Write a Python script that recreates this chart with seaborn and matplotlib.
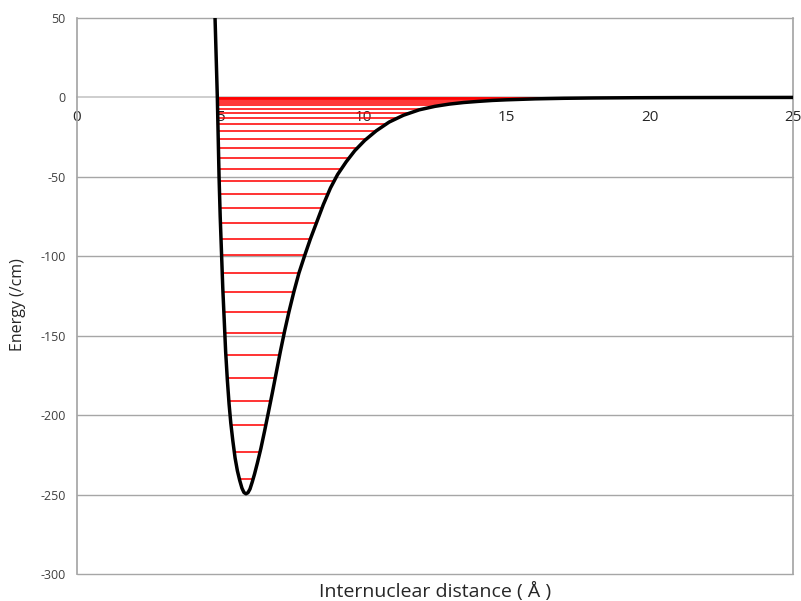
import numpy as np
import pandas as pd
import matplotlib
matplotlib.use("Agg")
import matplotlib.pyplot as plt
import seaborn as sns

# Potential curve (Å, /cm)
curve_x = [4.82, 4.86, 4.90, 4.93, 4.96, 5.00, 5.05, 5.09, 5.14, 5.19, 5.25, 5.31,
           5.37, 5.44, 5.52, 5.60, 5.68, 5.76, 5.83, 5.90,
           5.97, 6.04, 6.12, 6.20, 6.30, 6.42, 6.55, 6.68, 6.82, 6.96, 7.10, 7.25,
           7.40, 7.57, 7.75, 7.95, 8.15, 8.37, 8.60, 8.85, 9.10, 9.40, 9.70, 10.05,
           10.45, 10.90, 11.40, 11.95, 12.50, 13.00, 13.50, 14.00, 14.50, 15.00,
           16.00, 17.00, 18.00, 19.50, 21.00, 23.00, 25.00]
curve_y = [50, 25, 0, -25, -50, -75, -100, -120, -140, -160, -178, -193,
           -205, -216, -227, -235, -241, -246, -248.7, -249.5,
           -248.8, -246.5, -242, -237, -230, -221, -210, -198.5, -186, -173, -160, -147,
           -135, -122.5, -110.5, -99.5, -89, -78.5, -67.5, -57, -48.5, -40.5, -33.5, -27,
           -21, -15.5, -11.2, -7.8, -5.6, -4.2, -3.2, -2.5, -1.9, -1.5,
           -0.9, -0.55, -0.35, -0.18, -0.1, -0.04, 0]

# Vibrational level energies (/cm)
levels = [-240, -223, -206.5, -191, -176.5, -162, -148.5, -135, -122.5, -110.5,
          -99.5, -89, -79, -69.5, -60.7, -52.5, -45, -38.2, -32, -26, -21,
          -16.6, -12.8, -9.5, -7, -5, -3.4, -2.2, -1.3, -0.7, -0.3, -0.1]

x_ticks = [0, 5, 10, 15, 20, 25]
y_ticks = [-300, -250, -200, -150, -100, -50, 0, 50]

sns.set_theme(style="white")
plt.rcParams["font.family"] = ["Open Sans", "DejaVu Sans"]
plt.rcParams["axes.unicode_minus"] = False

fig = plt.figure(figsize=(8.01, 6.01), dpi=100)
ax = fig.add_axes([77 / 801, 27 / 601, (793 - 77) / 801, (574 - 18) / 601])

# turning points from the read curve
cx = np.array(curve_x)
cy = np.array(curve_y)
imin = int(np.argmin(cy))
lx, ly = cx[:imin + 1], cy[:imin + 1]
rx, ry = cx[imin:], cy[imin:]
lev = np.array(levels)
left_tp = np.interp(lev, ly[::-1], lx[::-1])
right_tp = np.interp(lev, ry, rx)

# gridlines
for yt in y_ticks:
    if yt == 0:
        continue
    ax.axhline(yt, color="#a6a6a6", lw=1.0, zorder=0, clip_on=False)

ax.hlines(lev, left_tp, right_tp, colors="#ff0000", lw=1.4, alpha=0.8, zorder=2)

df = pd.DataFrame({"r": curve_x, "E": curve_y})
sns.lineplot(data=df, x="r", y="E", sort=False, estimator=None, color="black",
             lw=2.5, ax=ax, zorder=3)

ax.set_xlim(0, 25)
ax.set_ylim(-300, 50)
ax.set_xticks(x_ticks)
ax.set_yticks(y_ticks)
ax.set_xticklabels([str(t) for t in x_ticks], fontsize=10, color="#404040")
ax.set_yticklabels([str(t) for t in y_ticks], fontsize=9, color="#404040")

ax.spines["bottom"].set_position(("data", 0))
ax.spines["bottom"].set_color("#c8c8c8")
ax.spines["bottom"].set_zorder(1)
ax.spines["left"].set_color("#a6a6a6")
ax.spines["right"].set_color("#a6a6a6")
ax.spines["top"].set_visible(False)
ax.tick_params(axis="x", length=0, pad=9)
ax.tick_params(axis="y", length=0, pad=8)

ax.set_xlabel("")
ax.set_ylabel("")
fig.text(0.5 * (77 + 793) / 801, 1 - 591 / 601, "Internuclear distance ( Å )",
         ha="center", va="center", fontsize=14, color="#262626")
fig.text(18 / 801, 1 - 305 / 601, "Energy (/cm)", rotation=90,
         ha="center", va="center", fontsize=11.5, color="#262626")

fig.savefig("out.png", dpi=100)
